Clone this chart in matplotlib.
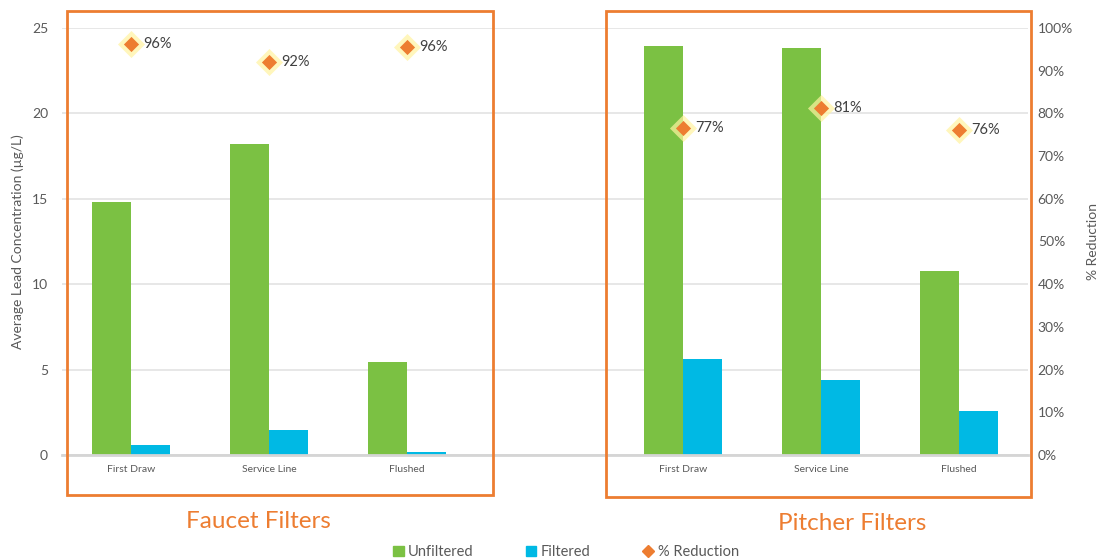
import matplotlib
matplotlib.use('Agg')
import matplotlib.pyplot as plt
import numpy as np
from matplotlib.patches import Rectangle, Patch
from matplotlib.lines import Line2D

plt.rcParams['font.family'] = ['Lato', 'DejaVu Sans']

# data
categories = ['First Draw', 'Service Line', 'Flushed', '', 'First Draw', 'Service Line', 'Flushed']
faucet_unfiltered = [14.8, 18.2, 5.45]
faucet_filtered = [0.6, 1.45, 0.2]
faucet_reduction = [0.963, 0.92, 0.955]
pitcher_unfiltered = [23.95, 23.85, 10.8]
pitcher_filtered = [5.62, 4.4, 2.58]
pitcher_reduction = [0.766, 0.813, 0.76]

green = '#7BC143'
blue = '#00B9E4'
orange = '#ED7D31'
grey_txt = '#595959'

unfiltered = faucet_unfiltered + [np.nan] + pitcher_unfiltered
filtered = faucet_filtered + [np.nan] + pitcher_filtered
reduction = faucet_reduction + [np.nan] + pitcher_reduction
x = np.arange(len(categories))

fig = plt.figure(figsize=(10.99, 5.6), dpi=100)
ax = fig.add_axes([62/1099, 105/560, 966/1099, 427/560])
ax2 = ax.twinx()

w = 0.285
ax.bar(x - w/2, unfiltered, w, color=green, zorder=2)
ax.bar(x + w/2, filtered, w, color=blue, zorder=2)

ax.set_xlim(-0.5, 6.5)
ax.set_ylim(0, 25)
ax.set_yticks(np.arange(0, 26, 5))
ax.set_xticks(x)
ax.set_xticklabels(categories, fontsize=7.5, color=grey_txt)
ax.tick_params(axis='x', length=0, pad=7)
ax.tick_params(axis='y', length=0, labelsize=10, labelcolor=grey_txt, pad=10)
ax.yaxis.grid(True, color='#E3E3E3', linewidth=1.2, zorder=0)
ax.set_axisbelow(True)
for s in ['top', 'right', 'left']:
    ax.spines[s].set_visible(False)
ax.spines['bottom'].set_color('#D5D5D5')
ax.spines['bottom'].set_linewidth(2)
ax.set_ylabel('Average Lead Concentration (µg/L)', fontsize=10, color=grey_txt, labelpad=6)

# % reduction on the right axis
ax2.set_ylim(0, 1)
ax2.set_yticks(np.arange(0, 1.01, 0.1))
ax2.set_yticklabels([f'{int(round(v*100))}%' for v in np.arange(0, 1.01, 0.1)])
ax2.tick_params(axis='y', length=0, labelsize=10, labelcolor=grey_txt, pad=7)
for s in ax2.spines.values():
    s.set_visible(False)
ax2.set_ylabel('% Reduction', fontsize=10, color=grey_txt, labelpad=10)

ax2.scatter(x, reduction, marker='D', s=190, color='#FFF3A0', alpha=0.7, zorder=3, linewidths=0)
ax2.scatter(x, reduction, marker='D', s=60, color=orange, zorder=4, linewidths=0)
for xi, r in zip(x, reduction):
    if np.isnan(r):
        continue
    ax2.annotate(f'{int(r*100 + 0.5)}%', (xi, r), xytext=(9, 0), textcoords='offset points',
                 va='center', ha='left', fontsize=10.5, color='#404040')

# orange boxes and titles
fig.patches.append(Rectangle((67/1099, 65/560), 426/1099, 484/560, transform=fig.transFigure,
                             fill=False, edgecolor=orange, linewidth=2))
fig.patches.append(Rectangle((606/1099, 63/560), 425/1099, 486/560, transform=fig.transFigure,
                             fill=False, edgecolor=orange, linewidth=2))
fig.text(258/1099, 1 - 522/560, 'Faucet Filters', color=orange, fontsize=17.5, ha='center', va='center')
fig.text(852/1099, 1 - 524/560, 'Pitcher Filters', color=orange, fontsize=17.5, ha='center', va='center')

handles = [Patch(color=green, label='Unfiltered'),
           Patch(color=blue, label='Filtered'),
           Line2D([], [], marker='D', color=orange, linestyle='none', markersize=6, label='% Reduction')]
fig.legend(handles=handles, loc='center', bbox_to_anchor=(566/1099, 1 - 552/560), ncol=3,
           frameon=False, fontsize=10.5, labelcolor=grey_txt, columnspacing=3.6,
           handlelength=0.7, handleheight=0.7, handletextpad=0.3)

fig.savefig('out.png', dpi=100)
